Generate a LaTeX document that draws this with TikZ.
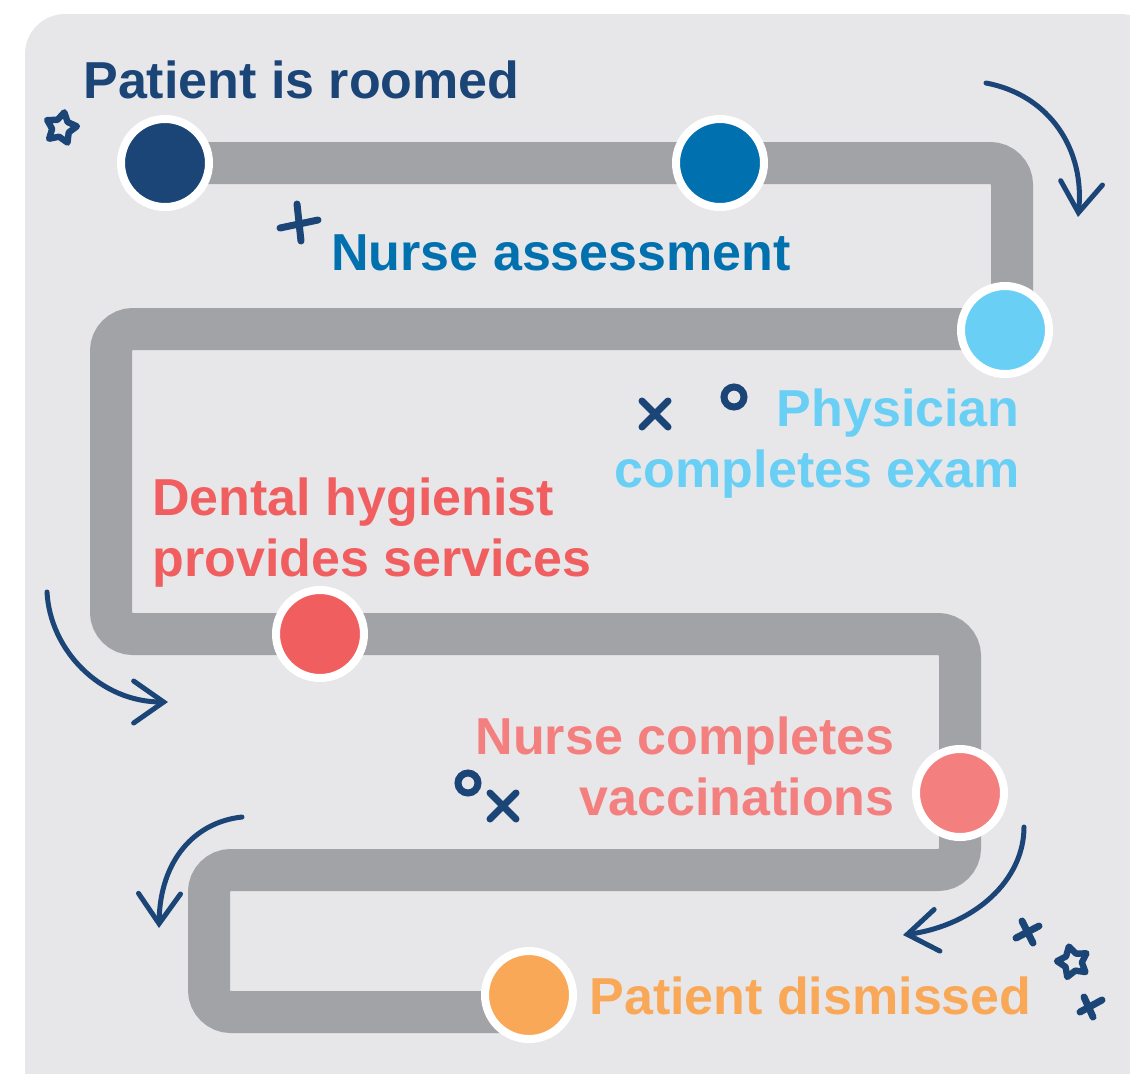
\documentclass[tikz,border=0pt]{standalone}
\usepackage{fontspec}
\setmainfont{Liberation Sans}
\usetikzlibrary{shapes.geometric,arrows.meta}

\definecolor{navy}{HTML}{1B4477}
\definecolor{roomblue}{HTML}{0070AE}
\definecolor{examcyan}{HTML}{69CFF5}
\definecolor{dentalred}{HTML}{F15E5F}
\definecolor{vaccsalmon}{HTML}{F47F7F}
\definecolor{exitorange}{HTML}{F9A858}
\definecolor{roadgrey}{HTML}{A2A3A7}
\definecolor{panelgrey}{HTML}{E7E7EA}

\begin{document}
\begin{tikzpicture}[x=0.5pt, y=-0.5pt,
    stop/.style={circle, draw=white, line width=4pt, minimum size=44pt, inner sep=0pt},
    stage/.style={font=\bfseries\fontsize{26}{30.5}\selectfont, inner sep=0pt},
    doodle/.style={navy, line width=3.5pt, line cap=round},
    twinkle/.style={star, star points=5, star point ratio=1.8, draw=navy, line width=3.2pt,
        line join=round, minimum size=16pt, inner sep=0pt},
    turn/.style={navy, line width=2.5pt, line cap=round,
        -{Straight Barb[length=15pt, width=21pt, line cap=round]}},
    cross/.pic={\draw[doodle] (-13,-13) -- (13,13) (-13,13) -- (13,-13);}
]
    % Panel
    \useasboundingbox (0,0) rectangle (1130,1073);
    \clip (0,0) rectangle (1130,1073);
    \fill[panelgrey, rounded corners=20pt] (25,14) rectangle (1160,1110);

    % Stops along the road
    \coordinate (p1) at (165,163);
    \coordinate (p2) at (720,163);
    \coordinate (p3) at (1005,330);
    \coordinate (p4) at (320,634);
    \coordinate (p5) at (960,793);
    \coordinate (p6) at (529,995);

    % Road
    \draw[roadgrey, line width=21pt, rounded corners=11pt]
        (p1) -- (1012,163) -- (1012,329) -- (111,329) -- (111,634)
        -- (960,634) -- (960,870) -- (209,870) -- (209,1012) -- (p6 |- 0,1012);

    \node[stop, fill=navy] (s1) at (p1) {};
    \node[stop, fill=roomblue] (s2) at (p2) {};
    \node[stop, fill=examcyan] (s3) at (p3) {};
    \node[stop, fill=dentalred] (s4) at (p4) {};
    \node[stop, fill=vaccsalmon] (s5) at (p5) {};
    \node[stop, fill=exitorange] (s6) at (p6) {};

    % Labels (base = last line)
    \node[stage, navy, anchor=base west] (roomed) at (83,98) {Patient is roomed};
    \node[stage, roomblue, anchor=base west] (assess) at (331,270) {Nurse assessment};
    \node[stage, examcyan, anchor=base east, align=right] (exam) at (1020,487) {Physician\\completes exam};
    \node[stage, dentalred, anchor=base west, align=left] (dental) at (152,576) {Dental hygienist\\provides services};
    \node[stage, vaccsalmon, anchor=base east, align=right] (vacc) at (895,815) {Nurse completes\\vaccinations};
    \node[stage, exitorange, anchor=base west] (dismiss) at (589,1014) {Patient dismissed};

    % Turn arrows
    \draw[turn] (986,83) .. controls (1050,95) and (1085,150) .. (1078,217);
    \draw[turn] (47,592) .. controls (50,650) and (100,702) .. (168,702);
    \draw[turn] (242,817) .. controls (195,822) and (160,860) .. (159,928);
    \draw[turn] (1024,827) .. controls (1024,880) and (975,925) .. (903,935);

    % Doodles
    \node[twinkle, rotate=-12] (star1) at (61,128) {};
    \node[twinkle, rotate=15] (star2) at (1073,962) {};
    \draw[doodle] (297,204) -- (301,241) (280,228) -- (318,220);
    \pic at (655,414) {cross};
    \pic at (503,806) {cross};
    \draw[doodle] (734,397) circle (10);
    \draw[doodle] (468,783) circle (10);
    \draw[doodle] (1016,938) -- (1039,926) (1022,921) -- (1033,943);
    \draw[doodle] (1080,1012) -- (1102,1000) (1084,997) -- (1093,1017);
\end{tikzpicture}
\end{document}
